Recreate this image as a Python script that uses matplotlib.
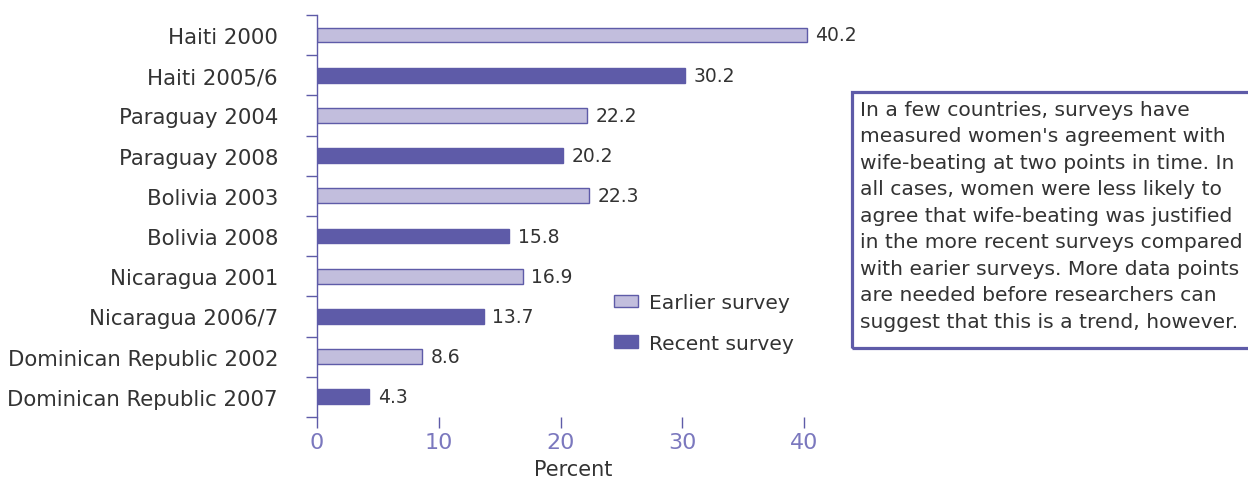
import matplotlib.pyplot as plt
from matplotlib.patches import Rectangle, Patch

# data
labels = ["Haiti 2000", "Haiti 2005/6", "Paraguay 2004", "Paraguay 2008",
          "Bolivia 2003", "Bolivia 2008", "Nicaragua 2001", "Nicaragua 2006/7",
          "Dominican Republic 2002", "Dominican Republic 2007"]
values = [40.2, 30.2, 22.2, 20.2, 22.3, 15.8, 16.9, 13.7, 8.6, 4.3]
is_recent = [False, True, False, True, False, True, False, True, False, True]
x_ticks = [0, 10, 20, 30, 40]

note = ("In a few countries, surveys have\n"
        "measured women's agreement with\n"
        "wife-beating at two points in time. In\n"
        "all cases, women were less likely to\n"
        "agree that wife-beating was justified\n"
        "in the more recent surveys compared\n"
        "with earier surveys. More data points\n"
        "are needed before researchers can\n"
        "suggest that this is a trend, however.")

light = "#c2bedd"
dark = "#5e5ba8"
text_col = "#333333"
tick_col = "#7b78be"

plt.rcParams['font.family'] = ['DejaVu Sans']

fig = plt.figure(figsize=(12.48, 4.81), dpi=100)
ax = fig.add_axes([0.254, 0.131, 0.41, 0.836])

ypos = list(range(len(labels)))
colors = [dark if r else light for r in is_recent]
ax.barh(ypos, values, height=0.37, color=colors, edgecolor=dark, linewidth=1)

for y, v in zip(ypos, values):
    ax.text(v + 0.7, y, f"{v}", va="center", ha="left", fontsize=13.5, color=text_col)

ax.set_ylim(len(labels) - 0.5, -0.5)
ax.set_xlim(0, 42)
ax.set_yticks(ypos)
ax.set_yticklabels(labels, fontsize=15.3, color=text_col)
ax.set_yticks([i - 0.5 for i in range(len(labels) + 1)], minor=True)
ax.tick_params(axis="y", which="major", length=0, pad=28)
ax.tick_params(axis="y", which="minor", length=8, color=dark, width=1)

ax.set_xticks(x_ticks)
ax.set_xticklabels([str(t) for t in x_ticks], fontsize=16, color=tick_col)
ax.tick_params(axis="x", length=8, color=dark, width=1, pad=3)
ax.set_xlabel("Percent", fontsize=15, color=text_col, labelpad=5)

for s in ["top", "right", "bottom"]:
    ax.spines[s].set_visible(False)
ax.spines["left"].set_color(dark)
ax.spines["left"].set_linewidth(1)

handles = [Patch(facecolor=light, edgecolor=dark, label="Earlier survey"),
           Patch(facecolor=dark, edgecolor=dark, label="Recent survey")]
fig.legend(handles=handles, loc="upper left", bbox_to_anchor=(0.477, 0.427),
           frameon=False, fontsize=14.6, handlelength=1.2, handleheight=0.55,
           labelspacing=1.08, handletextpad=0.55, labelcolor=text_col)

fig.patches.append(Rectangle((0.683, 0.274), 0.4, 0.533, transform=fig.transFigure,
                             fill=False, edgecolor=dark, linewidth=2.3))
fig.text(0.689, 0.791, note, ha="left", va="top", fontsize=14.6, color=text_col,
         linespacing=1.5)

fig.savefig("out.png", dpi=100)
